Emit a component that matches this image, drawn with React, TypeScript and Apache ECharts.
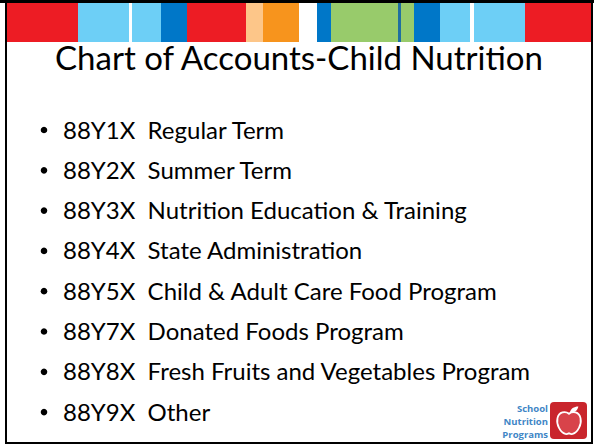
import React, { useEffect, useRef } from "react";
import * as echarts from "echarts";

const title = "Chart of Accounts-Child Nutrition";
const codes = ["88Y1X", "88Y2X", "88Y3X", "88Y4X", "88Y5X", "88Y7X", "88Y8X", "88Y9X"];
const labels = [
  "Regular Term",
  "Summer Term",
  "Nutrition Education & Training",
  "State Administration",
  "Child & Adult Care Food Program",
  "Donated Foods Program",
  "Fresh Fruits and Vegetables Program",
  "Other",
];
const logoLines = ["School", "Nutrition", "Programs"];

const stripe: [number, number, string][] = [
  [7, 78, "#ED1C24"],
  [78, 129, "#6DCFF6"],
  [129, 132, "#ffffff"],
  [132, 161, "#6DCFF6"],
  [161, 187, "#0077C8"],
  [187, 246, "#ED1C24"],
  [246, 263, "#FDC689"],
  [263, 299, "#F7941D"],
  [299, 317, "#ffffff"],
  [317, 331, "#0077C8"],
  [331, 398, "#98CB6B"],
  [398, 401, "#1F6FA0"],
  [401, 414, "#98CB6B"],
  [414, 440, "#0077C8"],
  [440, 470, "#6DCFF6"],
  [470, 474, "#ffffff"],
  [474, 525, "#6DCFF6"],
  [525, 591, "#ED1C24"],
];

const applePath =
  "M50 30 C40 22 22 24 18 42 C14 60 26 82 40 86 C45 87 48 85 50 84 C52 85 55 87 60 86 C74 82 86 60 82 42 C78 24 60 22 50 30 Z";
const leafPath = "M52 28 C54 16 64 10 76 10 C74 22 64 28 52 28 Z";

echarts.graphic.registerShape("apple", echarts.graphic.extendPath(applePath, {}) as any);
echarts.graphic.registerShape("leaf", echarts.graphic.extendPath(leafPath, {}) as any);

export default function App() {
  const ref = useRef<HTMLDivElement>(null);
  useEffect(() => {
    document.body.style.margin = "0";
    const chart = echarts.init(ref.current!, null, { renderer: "svg" });
    const elements: any[] = [];
    elements.push({ type: "rect", shape: { x: 0, y: 0, width: 594, height: 445 }, style: { fill: "#ffffff" } });
    stripe.forEach(([a, b, c]) => {
      elements.push({ type: "rect", shape: { x: a, y: 3, width: b - a, height: 39 }, style: { fill: c } });
    });
    elements.push({
      type: "text",
      x: 299,
      y: 73,
      style: { text: title, fill: "#000", font: "33px Lato", textAlign: "center", textVerticalAlign: "bottom" },
    });
    codes.forEach((c, i) => {
      const y = 129 + i * 40.3;
      elements.push({ type: "circle", shape: { cx: 44, cy: y + 1, r: 3.3 }, style: { fill: "#000" } });
      elements.push({
        type: "text",
        x: 63,
        y: y,
        style: { text: c + "  " + labels[i], fill: "#000", font: "24px Lato", textVerticalAlign: "middle" },
      });
    });
    logoLines.forEach((t, i) => {
      elements.push({
        type: "text",
        x: 548,
        y: 408 + i * 13,
        style: {
          text: t,
          fill: "#3F86C6",
          font: "bold 9.5px 'Open Sans'",
          textAlign: "right",
          textVerticalAlign: "middle",
        },
      });
    });
    elements.push({ type: "rect", shape: { x: 550, y: 402, width: 37, height: 37, r: 4 }, style: { fill: "#C9252C" } });
    elements.push({ type: "apple", x: 551, y: 403, scaleX: 0.36, scaleY: 0.36, style: { fill: "#D8434A", stroke: "#ffffff", lineWidth: 5 } });
    elements.push({ type: "leaf", x: 551, y: 403, scaleX: 0.36, scaleY: 0.36, style: { fill: "#ffffff" } });
    elements.push({
      type: "rect",
      shape: { x: 6, y: 2, width: 586, height: 441 },
      style: { fill: "none", stroke: "#000", lineWidth: 2 },
    });
    elements.push({ type: "rect", shape: { x: 0, y: 0, width: 594, height: 3 }, style: { fill: "#000" } });
    chart.setOption({ animation: false, graphic: { elements } });
    return () => chart.dispose();
  }, []);
  return <div ref={ref} style={{ width: 594, height: 445 }} />;
}
